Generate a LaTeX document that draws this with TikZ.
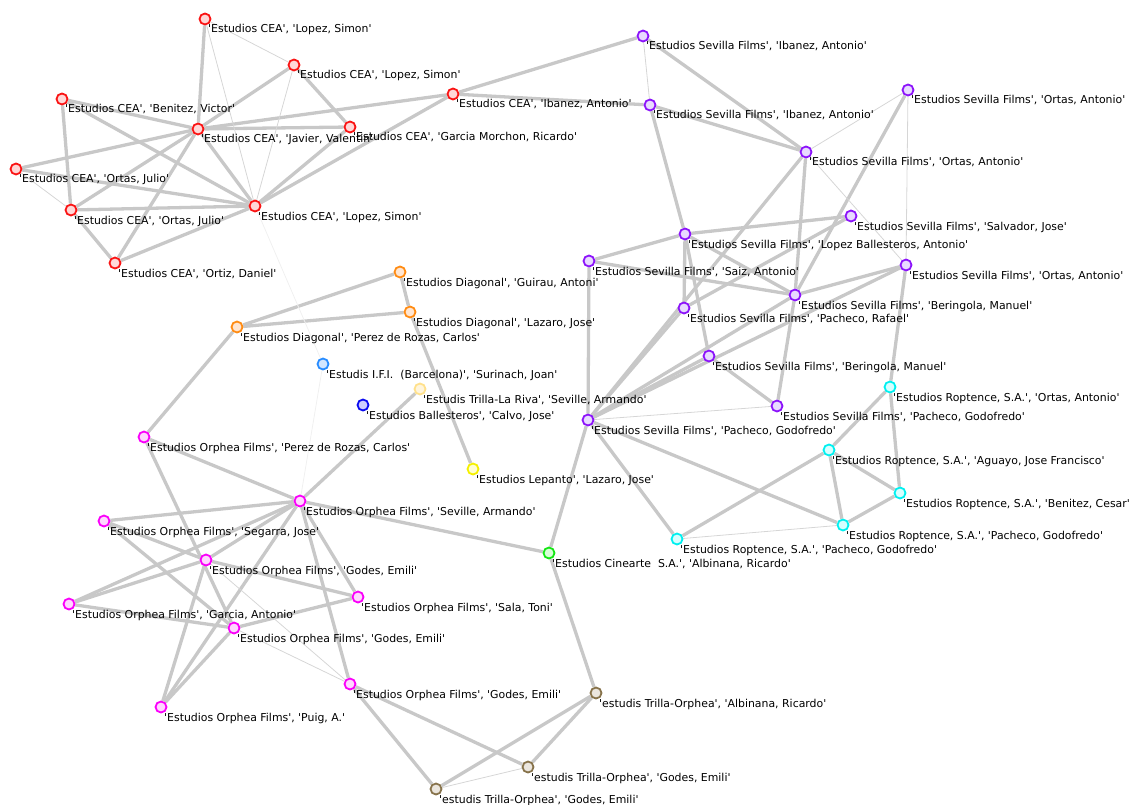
\documentclass[tikz,border=0pt]{standalone}
\usepackage{fontspec}
\newfontfamily\lblfont{DejaVu Sans}[Ligatures=TeXOff]
\usetikzlibrary{backgrounds}
\definecolor{edgeK}{RGB}{200,200,200}
\definecolor{edgeT}{RGB}{214,214,214}
\definecolor{ceaD}{RGB}{250,20,20}\definecolor{ceaF}{RGB}{255,215,215}
\definecolor{sevD}{RGB}{140,20,250}\definecolor{sevF}{RGB}{232,218,255}
\definecolor{ropD}{RGB}{0,240,240}\definecolor{ropF}{RGB}{215,255,255}
\definecolor{diaD}{RGB}{255,140,20}\definecolor{diaF}{RGB}{255,230,210}
\definecolor{orpD}{RGB}{250,0,250}\definecolor{orpF}{RGB}{255,215,255}
\definecolor{cinD}{RGB}{20,230,20}\definecolor{cinF}{RGB}{215,255,215}
\definecolor{lepD}{RGB}{245,240,0}\definecolor{lepF}{RGB}{255,255,210}
\definecolor{trlD}{RGB}{255,225,140}\definecolor{trlF}{RGB}{255,245,220}
\definecolor{ifiD}{RGB}{40,140,255}\definecolor{ifiF}{RGB}{210,230,255}
\definecolor{balD}{RGB}{10,10,240}\definecolor{balF}{RGB}{205,205,255}
\definecolor{troD}{RGB}{135,115,75}\definecolor{troF}{RGB}{235,230,222}
\tikzset{
  vtx/.style={circle, minimum size=11pt, inner sep=0pt, line width=1.8pt},
  vcea/.style={vtx, draw=ceaD, fill=ceaF},
  vsev/.style={vtx, draw=sevD, fill=sevF},
  vrop/.style={vtx, draw=ropD, fill=ropF},
  vdia/.style={vtx, draw=diaD, fill=diaF},
  vorp/.style={vtx, draw=orpD, fill=orpF},
  vcin/.style={vtx, draw=cinD, fill=cinF},
  vlep/.style={vtx, draw=lepD, fill=lepF},
  vtrl/.style={vtx, draw=trlD, fill=trlF},
  vifi/.style={vtx, draw=ifiD, fill=ifiF},
  vbal/.style={vtx, draw=balD, fill=balF},
  vtro/.style={vtx, draw=troD, fill=troF},
  lbl/.style={font=\lblfont\fontsize{10.9}{12}\selectfont, inner sep=0pt, anchor=base west, text=black},
  ek/.style={draw=edgeK, line width=3.3pt},
  et/.style={draw=edgeT, line width=0.8pt},
  ef/.style={draw=black!6, line width=0.8pt}
}
\newcommand\nd[5]{\node[#4] (#1) at (#2,#3) {}; \node[lbl] (#1-l) at ({#2+3},{#3+14}) {#5};}
\begin{document}
\begin{tikzpicture}[x=1pt,y=-1pt]
\useasboundingbox (0,0) rectangle (1132,805);
% CEA
\nd{C1}{205}{19}{vcea}{'Estudios CEA', 'Lopez, Simon'}
\nd{C2}{294}{65}{vcea}{'Estudios CEA', 'Lopez, Simon'}
\nd{C3}{62}{99}{vcea}{'Estudios CEA', 'Benitez, Victor'}
\nd{C4}{198}{129}{vcea}{'Estudios CEA', 'Javier, Valentin'}
\nd{C5}{350}{127}{vcea}{'Estudios CEA', 'Garcia Morchon, Ricardo'}
\nd{C6}{453}{94}{vcea}{'Estudios CEA', 'Ibanez, Antonio'}
\nd{C7}{16}{169}{vcea}{'Estudios CEA', 'Ortas, Julio'}
\nd{C8}{71}{210}{vcea}{'Estudios CEA', 'Ortas, Julio'}
\nd{C9}{255}{206}{vcea}{'Estudios CEA', 'Lopez, Simon'}
\nd{C10}{115}{263}{vcea}{'Estudios CEA', 'Ortiz, Daniel'}
% Sevilla
\nd{S1}{643}{36}{vsev}{'Estudios Sevilla Films', 'Ibanez, Antonio'}
\nd{S2}{650}{105}{vsev}{'Estudios Sevilla Films', 'Ibanez, Antonio'}
\nd{S3}{908}{90}{vsev}{'Estudios Sevilla Films', 'Ortas, Antonio'}
\nd{S4}{806}{152}{vsev}{'Estudios Sevilla Films', 'Ortas, Antonio'}
\nd{S5}{851}{216}{vsev}{'Estudios Sevilla Films', 'Salvador, Jose'}
\nd{S6}{685}{234}{vsev}{'Estudios Sevilla Films', 'Lopez Ballesteros, Antonio'}
\nd{S7}{589}{261}{vsev}{'Estudios Sevilla Films', 'Saiz, Antonio'}
\nd{S8}{906}{265}{vsev}{'Estudios Sevilla Films', 'Ortas, Antonio'}
\nd{S9}{795}{295}{vsev}{'Estudios Sevilla Films', 'Beringola, Manuel'}
\nd{S10}{684}{308}{vsev}{'Estudios Sevilla Films', 'Pacheco, Rafael'}
\nd{S11}{709}{356}{vsev}{'Estudios Sevilla Films', 'Beringola, Manuel'}
\nd{S12}{777}{406}{vsev}{'Estudios Sevilla Films', 'Pacheco, Godofredo'}
\nd{S13}{588}{420}{vsev}{'Estudios Sevilla Films', 'Pacheco, Godofredo'}
% Roptence
\nd{R1}{890}{387}{vrop}{'Estudios Roptence, S.A.', 'Ortas, Antonio'}
\nd{R2}{829}{450}{vrop}{'Estudios Roptence, S.A.', 'Aguayo, Jose Francisco'}
\nd{R3}{900}{493}{vrop}{'Estudios Roptence, S.A.', 'Benitez, Cesar'}
\nd{R4}{843}{525}{vrop}{'Estudios Roptence, S.A.', 'Pacheco, Godofredo'}
\nd{R5}{677}{539}{vrop}{'Estudios Roptence, S.A.', 'Pacheco, Godofredo'}
% Diagonal and singles
\nd{D1}{400}{272}{vdia}{'Estudios Diagonal', 'Guirau, Antoni'}
\nd{D2}{410}{312}{vdia}{'Estudios Diagonal', 'Lazaro, Jose'}
\nd{D3}{237}{327}{vdia}{'Estudios Diagonal', 'Perez de Rozas, Carlos'}
\nd{I}{323}{364}{vifi}{'Estudis I.F.I.\ \ (Barcelona)', 'Surinach, Joan'}
\nd{T}{420}{389}{vtrl}{'Estudis Trilla-La Riva', 'Seville, Armando'}
\nd{B}{363}{405}{vbal}{'Estudios Ballesteros', 'Calvo, Jose'}
\nd{L}{473}{469}{vlep}{'Estudios Lepanto', 'Lazaro, Jose'}
\nd{G}{549}{553}{vcin}{'Estudios Cinearte\ \ S.A.', 'Albinana, Ricardo'}
% Orphea
\nd{O1}{144}{437}{vorp}{'Estudios Orphea Films', 'Perez de Rozas, Carlos'}
\nd{O2}{300}{501}{vorp}{'Estudios Orphea Films', 'Seville, Armando'}
\nd{O3}{104}{521}{vorp}{'Estudios Orphea Films', 'Segarra, Jose'}
\nd{O4}{206}{560}{vorp}{'Estudios Orphea Films', 'Godes, Emili'}
\nd{O5}{358}{597}{vorp}{'Estudios Orphea Films', 'Sala, Toni'}
\nd{O6}{69}{604}{vorp}{'Estudios Orphea Films', 'Garcia, Antonio'}
\nd{O7}{234}{628}{vorp}{'Estudios Orphea Films', 'Godes, Emili'}
\nd{O8}{350}{684}{vorp}{'Estudios Orphea Films', 'Godes, Emili'}
\nd{O9}{161}{707}{vorp}{'Estudios Orphea Films', 'Puig, A.'}
% Trilla-Orphea
\nd{TO1}{596}{693}{vtro}{'estudis Trilla-Orphea', 'Albinana, Ricardo'}
\nd{TO2}{528}{767}{vtro}{'estudis Trilla-Orphea', 'Godes, Emili'}
\nd{TO3}{436}{789}{vtro}{'estudis Trilla-Orphea', 'Godes, Emili'}
\begin{scope}[on background layer]
\foreach \a/\b in {C1/C4, C2/C4, C2/C5, C3/C8, C3/C9, C3/C4, C4/C5, C4/C6, C7/C4, C7/C9,
  C8/C4, C8/C9, C8/C10, C10/C4, C10/C9, C4/C9, C9/C5, C9/C6, C6/S1, C6/S2,
  S1/S4, S2/S4, S2/S6, S3/S9, S4/S9, S4/S13, S5/S6, S5/S10, S6/S7, S6/S10, S6/S11, S6/S9,
  S7/S13, S7/S9, S8/S9, S8/R1, S9/S12, S9/S13, S10/S13, S11/S13, S11/S12, S13/G, S13/R5, S13/R4, S13/S8,
  R1/R2, R1/R3, R2/R3, R2/R4, R2/R5, R3/R4,
  D3/D1, D3/D2, D1/D2, D2/L, D3/O1, O1/O2, O1/O7, O2/O3, O2/O4, O2/O6, O2/O9, O2/O5, O2/O8,
  O2/G, O2/T, O3/O4, O3/O7, O4/O6, O4/O5, O4/O9, O6/O7, O7/O5, O7/O9, O8/TO3, O8/TO2,
  G/TO1, TO1/TO2, TO1/TO3}
  \draw[ek] (\a) -- (\b);
\foreach \a/\b in {C1/C2, C1/C9, C2/C9, C7/C8, S1/S2, S3/S4, S3/S8, S4/S8, S12/S13, R4/R5,
  O4/O8, O7/O8, TO2/TO3}
  \draw[et] (\a) -- (\b);
\foreach \a/\b in {C9/I, I/O2}
  \draw[ef] (\a) -- (\b);
\end{scope}
\end{tikzpicture}
\end{document}
